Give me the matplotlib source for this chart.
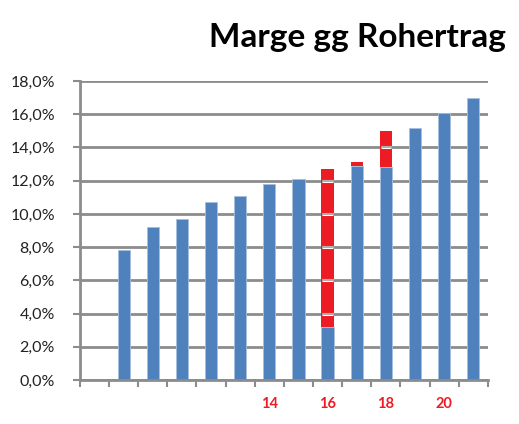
import matplotlib
matplotlib.use("Agg")
import matplotlib.pyplot as plt
import matplotlib.patheffects as pe
import numpy as np

# categories 8..21, first slot carries no bar
categories = [8, 9, 10, 11, 12, 13, 14, 15, 16, 17, 18, 19, 20, 21]
blue_values = [np.nan, 7.8, 9.2, 9.7, 10.7, 11.1, 11.8, 12.1, 3.2, 12.9, 12.8, 15.2, 16.1, 17.0]
red_tops = [np.nan, np.nan, np.nan, np.nan, np.nan, np.nan, np.nan, np.nan, 12.7, 13.1, 15.0,
            np.nan, np.nan, np.nan]
shown_labels = [14, 16, 18, 20]
y_ticks = [0, 2, 4, 6, 8, 10, 12, 14, 16, 18]

BLUE = "#4F81BD"
RED = "#ED1C24"
GRID = "#8C8C8C"
FONT = ["Lato", "DejaVu Sans"]

fig = plt.figure(figsize=(5.19, 4.24), dpi=100)
ax = fig.add_axes([0.154, 0.1038, 0.786, 0.705])

x = np.arange(len(categories))
blue = np.array(blue_values, dtype=float)
red = np.array(red_tops, dtype=float)
width = 0.42

ax.bar(x, blue, width=width, color=BLUE, edgecolor="#A7C0DE", linewidth=0.6, zorder=2)
ax.bar(x, red - blue, bottom=blue, width=width, color=RED, linewidth=0, zorder=3)

# gridlines that show through the red overlay
for xi, b, t in zip(x, blue, red):
    if np.isnan(t):
        continue
    for g in y_ticks:
        if b < g < t:
            ax.hlines(g, xi - width / 2 + 0.03, xi + width / 2 - 0.03, color="#A0A0A0", lw=1.2,
                      zorder=4,
                      path_effects=[pe.Stroke(linewidth=2.2, foreground="white"), pe.Normal()])

ax.set_xlim(-0.5, len(categories) - 0.5)
ax.set_ylim(0, 18)
ax.set_yticks(y_ticks)
ax.set_yticklabels([f"{v:.1f}%".replace(".", ",") for v in y_ticks], fontsize=11.5,
                   color="#222222", family=FONT)
ax.yaxis.grid(True, color=GRID, lw=2, zorder=0)
ax.set_axisbelow(True)

# ticks between categories, labels only on selected ones
ax.set_xticks(np.arange(len(categories) + 1) - 0.5)
ax.set_xticklabels([])
ax.tick_params(axis="x", length=5, width=1.5, color=GRID, direction="out")
ax.tick_params(axis="y", length=5, width=1.5, color=GRID, direction="out", pad=13)
for lab in shown_labels:
    i = categories.index(lab)
    ax.text(x[i], -1.45, str(lab), ha="center", va="center", color=RED, fontsize=10.5,
            fontweight="bold", family=FONT)

for side in ["top", "right"]:
    ax.spines[side].set_visible(False)
for side in ["left", "bottom"]:
    ax.spines[side].set_color(GRID)
    ax.spines[side].set_linewidth(2)

fig.text(0.975, 0.912, "Marge gg Rohertrag", ha="right", va="center", fontsize=24,
         fontweight="bold", family=FONT)

fig.savefig("out.png", dpi=100)
